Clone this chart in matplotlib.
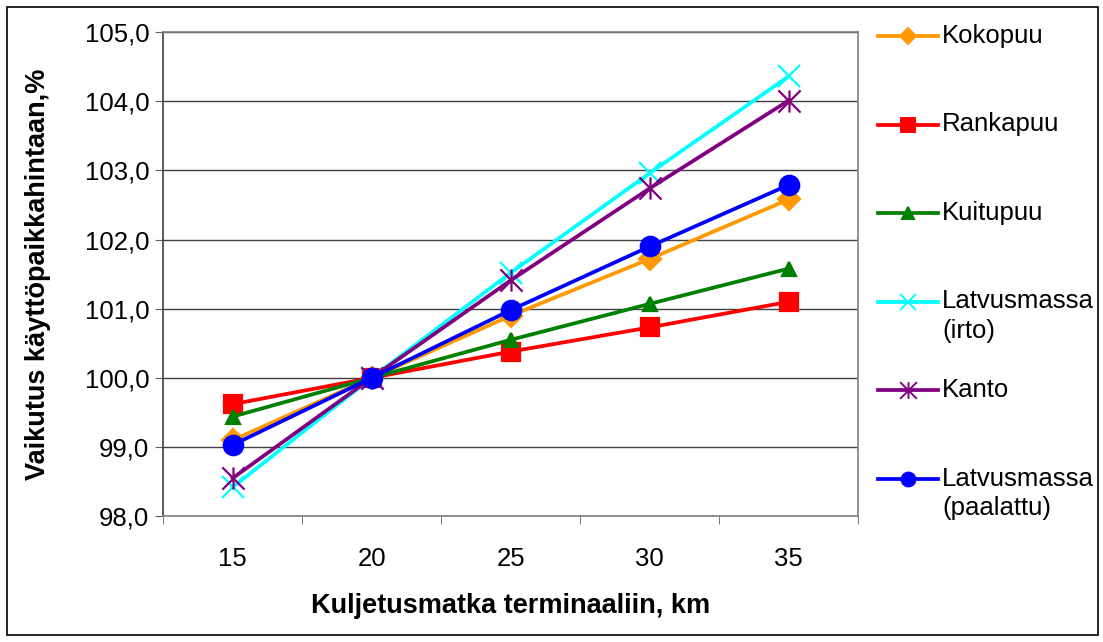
import numpy as np
import matplotlib.pyplot as plt
from matplotlib.lines import Line2D
from matplotlib.path import Path
from matplotlib.patches import Rectangle
from matplotlib.ticker import FuncFormatter

plt.rcParams['font.family'] = ['Liberation Sans', 'DejaVu Sans']

matka = [15, 20, 25, 30, 35]
kokopuu = [99.10, 100.0, 100.90, 101.72, 102.58]
rankapuu = [99.62, 100.0, 100.38, 100.73, 101.10]
kuitupuu = [99.44, 100.0, 100.55, 101.07, 101.58]
latvus_irto = [98.42, 100.0, 101.52, 102.96, 104.36]
kanto = [98.55, 100.0, 101.41, 102.74, 104.01]
latvus_paalattu = [99.03, 100.0, 100.98, 101.90, 102.79]

# excel-style asterisk: an x with a vertical stroke through it
asterisk = Path([(-1, -1), (1, 1), (-1, 1), (1, -1), (0, -1), (0, 1)],
                [Path.MOVETO, Path.LINETO] * 3)

# name, values, colour, marker, marker size in plot, marker size in legend
sarjat = [
    ('Kokopuu', kokopuu, '#FF9900', 'D', 11, 8.5),
    ('Rankapuu', rankapuu, '#FF0000', 's', 13.5, 10),
    ('Kuitupuu', kuitupuu, '#008000', '^', 10.5, 8.5),
    ('Latvusmassa\n(irto)', latvus_irto, '#00FFFF', 'x', 16, 12),
    ('Kanto', kanto, '#800080', asterisk, 16, 12),
    ('Latvusmassa\n(paalattu)', latvus_paalattu, '#0000FF', 'o', 14, 10),
]

fig = plt.figure(figsize=(11.03, 6.42), dpi=100)
ax = fig.add_axes([0.148, 0.196, 0.630, 0.754])

for nimi, arvot, vari, merkki, koko, _ in sarjat:
    ax.plot(matka, arvot, color=vari, lw=2.7, marker=merkki, ms=koko,
            mec=vari, mfc=vari, mew=1.6, zorder=3)

ax.set_xlim(12.5, 37.5)
ax.set_ylim(98, 105)
ax.set_yticks(np.arange(98, 105.1, 1))
ax.yaxis.set_major_formatter(FuncFormatter(lambda v, p: f'{v:.1f}'.replace('.', ',')))
ax.yaxis.grid(True, color='#404040', lw=1.0)
ax.set_axisbelow(True)

# category axis: labels in the middle, tick marks between categories
ax.set_xticks(matka)
ax.set_xticklabels([str(m) for m in matka])
ax.set_xticks(np.arange(12.5, 37.6, 5), minor=True)
ax.tick_params(axis='x', which='major', length=0, pad=22, labelsize=18.5)
ax.tick_params(axis='x', which='minor', length=6, direction='out', color='#606060')
ax.tick_params(axis='y', length=6, direction='out', color='#606060', labelsize=18.5, pad=4)

for s in ax.spines.values():
    s.set_color('#808080')
    s.set_linewidth(1.2)
ax.spines['left'].set_color('#404040')

ax.set_xlabel('Kuljetusmatka terminaaliin, km', fontsize=19.5, fontweight='bold', labelpad=16)
ax.set_ylabel('Vaikutus käyttöpaikkahintaan,%', fontsize=19.5, fontweight='bold', labelpad=24)

# legend drawn entry by entry, evenly spaced down the right side
y0 = 1 - 36 / 642
askel = 88.5 / 642
for i, (nimi, arvot, vari, merkki, koko, lkoko) in enumerate(sarjat):
    y = y0 - i * askel
    fig.add_artist(Line2D([878 / 1103, 938 / 1103], [y, y], color=vari, lw=2.7,
                          transform=fig.transFigure))
    fig.add_artist(Line2D([908 / 1103], [y], color=vari, marker=merkki, ms=lkoko,
                          mec=vari, mfc=vari, mew=1.4, transform=fig.transFigure))
    fig.text(942 / 1103, y + 12 / 642, nimi, fontsize=18.5, va='top', ha='left',
             linespacing=1.3)

fig.add_artist(Rectangle((7 / 1103, 7 / 642), 1091 / 1103, 628 / 642,
                         transform=fig.transFigure, fill=False, ec='black', lw=1.2))

fig.savefig('out.png', dpi=100)
